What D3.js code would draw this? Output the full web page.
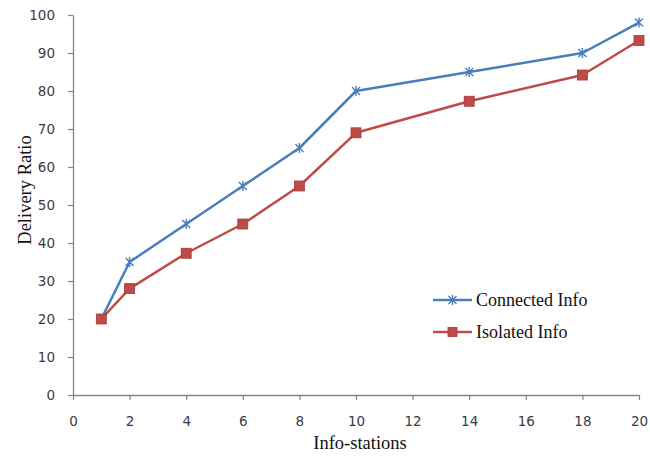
<!DOCTYPE html>
<html><head><meta charset="utf-8">
<script src="https://cdn.jsdelivr.net/npm/d3@7/dist/d3.min.js"></script>
<style>body{margin:0;background:#fff}</style>
</head><body>
<svg id="c" width="650" height="457"></svg>
<script>
const stations = [1, 2, 4, 6, 8, 10, 14, 18, 20];
const connected = [20, 35, 45, 55, 65, 80, 85, 90, 98];
const isolated = [20, 28, 37.3, 45, 55, 69, 77.3, 84.2, 93.3];
const xTicks = [0, 2, 4, 6, 8, 10, 12, 14, 16, 18, 20];
const yTicks = [0, 10, 20, 30, 40, 50, 60, 70, 80, 90, 100];
const seriesNames = ["Connected Info", "Isolated Info"];
const colors = ["#4a7ebb", "#be4b48"];

const svg = d3.select("#c");
const x = d3.scaleLinear().domain([0, 20]).range([73, 639]);
const y = d3.scaleLinear().domain([0, 100]).range([395, 15]);

const axisColor = "#868686";
const tickFont = "'DejaVu Sans', sans-serif";

const gx = svg.append("g").attr("transform", "translate(0,395)")
  .call(d3.axisBottom(x).tickValues(xTicks).tickSize(5).tickPadding(16).tickSizeOuter(0));
const gy = svg.append("g").attr("transform", "translate(73,0)")
  .call(d3.axisLeft(y).tickValues(yTicks).tickSize(5).tickPadding(13).tickSizeOuter(0));
[gx, gy].forEach(g => {
  g.select(".domain").attr("stroke", axisColor).attr("stroke-width", 1.3);
  g.selectAll(".tick line").attr("stroke", axisColor).attr("stroke-width", 1.2);
  g.selectAll(".tick text").attr("fill", "#3a3a4a").style("font-family", tickFont).style("font-size", "13.5px");
});

svg.append("text").attr("x", 360).attr("y", 449).attr("text-anchor", "middle")
  .style("font-family", "'Liberation Serif', serif").style("font-size", "18.5px").attr("fill", "#111")
  .text("Info-stations");
svg.append("text").attr("transform", "translate(31,190) rotate(-90)").attr("text-anchor", "middle")
  .style("font-family", "'Liberation Serif', serif").style("font-size", "18.5px").attr("fill", "#111")
  .text("Delivery Ratio");

const line = d3.line().x(d => x(d[0])).y(d => y(d[1]));
const data = [connected, isolated].map(s => stations.map((st, i) => [st, s[i]]));

function star(g, cx, cy, r, color) {
  g.append("path")
    .attr("d", `M${cx - r},${cy - r}L${cx + r},${cy + r}M${cx - r},${cy + r}L${cx + r},${cy - r}M${cx},${cy - r - 1}L${cx},${cy + r + 1}`)
    .attr("stroke", color).attr("stroke-width", 1.4).attr("fill", "none");
}
function square(g, cx, cy, s, color) {
  g.append("rect").attr("x", cx - s / 2).attr("y", cy - s / 2).attr("width", s).attr("height", s)
    .attr("fill", color).attr("stroke", "#a33a37").attr("stroke-width", 0.8);
}

data.forEach((d, k) => {
  svg.append("path").datum(d).attr("d", line).attr("fill", "none")
    .attr("stroke", colors[k]).attr("stroke-width", 2.5).attr("stroke-linejoin", "round");
});
const m0 = svg.append("g");
data[0].forEach(p => star(m0, x(p[0]), y(p[1]), 4, colors[0]));
const m1 = svg.append("g");
data[1].forEach(p => square(m1, x(p[0]), y(p[1]), 10, colors[1]));

// legend
const lg = svg.append("g");
const ly = [300, 332];
seriesNames.forEach((n, k) => {
  lg.append("line").attr("x1", 433).attr("x2", 472).attr("y1", ly[k]).attr("y2", ly[k])
    .attr("stroke", colors[k]).attr("stroke-width", 2.5);
  if (k === 0) star(lg, 452.5, ly[k], 4, colors[0]); else square(lg, 452.5, ly[k], 9, colors[1]);
  lg.append("text").attr("x", 476).attr("y", ly[k] + 6)
    .style("font-family", "'Liberation Serif', serif").style("font-size", "18px").attr("fill", "#111")
    .text(n);
});
</script>
</body></html>
